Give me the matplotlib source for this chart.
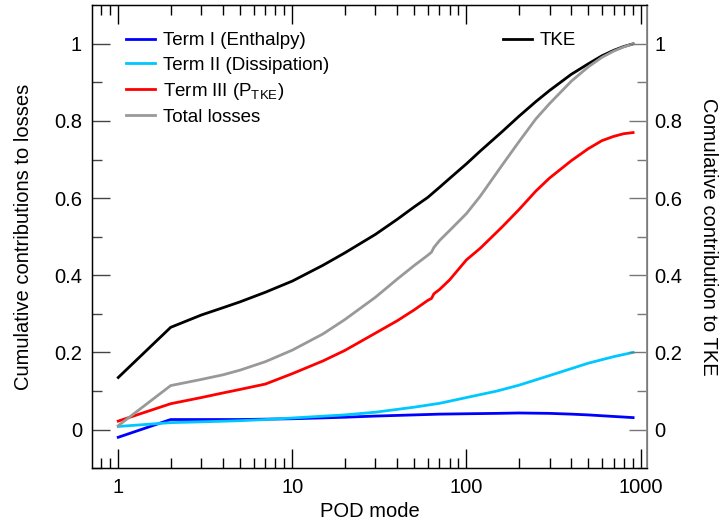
import matplotlib.pyplot as plt
from matplotlib.ticker import FixedLocator, FixedFormatter, LogLocator, NullFormatter

plt.rcParams['font.family'] = ['Liberation Sans', 'DejaVu Sans']
plt.rcParams['mathtext.fontset'] = 'custom'
plt.rcParams['mathtext.rm'] = 'Liberation Sans'

# cumulative contributions vs number of POD modes
modes_tke = [1, 2, 3, 4, 5, 7, 10, 15, 20, 30, 40, 50, 60, 70, 80, 100, 120,
             160, 200, 250, 300, 400, 500, 600, 700, 800, 906]
tke = [0.135, 0.265, 0.297, 0.316, 0.331, 0.356, 0.385, 0.426, 0.458, 0.506,
       0.545, 0.577, 0.602, 0.628, 0.651, 0.689, 0.722, 0.772, 0.812, 0.850,
       0.879, 0.921, 0.948, 0.969, 0.983, 0.993, 1.0]

modes_loss = [1, 2, 3, 4, 5, 7, 10, 15, 20, 30, 40, 50, 60, 63, 65, 70, 80,
              100, 120, 160, 200, 250, 300, 400, 500, 600, 700, 800, 906]
total = [0.010, 0.114, 0.130, 0.142, 0.154, 0.176, 0.206, 0.248, 0.285, 0.343,
         0.390, 0.425, 0.452, 0.460, 0.472, 0.490, 0.516, 0.560, 0.605, 0.685,
         0.746, 0.805, 0.845, 0.903, 0.940, 0.965, 0.981, 0.992, 1.0]
term3 = [0.022, 0.067, 0.083, 0.095, 0.104, 0.118, 0.145, 0.178, 0.205, 0.250,
         0.282, 0.310, 0.335, 0.340, 0.352, 0.363, 0.388, 0.440, 0.470, 0.525,
         0.570, 0.618, 0.652, 0.697, 0.728, 0.749, 0.760, 0.767, 0.770]

modes_small = [1, 2, 3, 5, 7, 10, 20, 30, 50, 70, 100, 150, 200, 300, 400,
               500, 700, 906]
term1 = [-0.020, 0.026, 0.026, 0.026, 0.027, 0.028, 0.032, 0.035, 0.038,
         0.040, 0.041, 0.042, 0.043, 0.042, 0.040, 0.038, 0.034, 0.031]
term2 = [0.008, 0.018, 0.020, 0.023, 0.026, 0.030, 0.038, 0.045, 0.058,
         0.068, 0.083, 0.100, 0.115, 0.140, 0.158, 0.172, 0.189, 0.200]

yticks = [0, 0.2, 0.4, 0.6, 0.8, 1.0]
ytick_labels = ['0', '0.2', '0.4', '0.6', '0.8', '1']
xticks = [1, 10, 100, 1000]
xtick_labels = ['1', '10', '100', '1000']

fig = plt.figure(figsize=(7.23, 5.26), dpi=100)
ax = fig.add_axes([0.127, 0.110, 0.768, 0.880])
ax2 = ax.twinx()

lw = 2.0
l5, = ax.plot(modes_tke, tke, color='black', lw=lw, label='TKE')
l1, = ax.plot(modes_small, term1, color='#0000ff', lw=lw, label='Term I (Enthalpy)')
l2, = ax.plot(modes_small, term2, color='#00c8ff', lw=lw, label='Term II (Dissipation)')
l3, = ax.plot(modes_loss, term3, color='#ff0000', lw=lw,
              label=r'Term III (P$_{\mathregular{TKE}}$)')
l4, = ax.plot(modes_loss, total, color='#999999', lw=lw, label='Total losses')

for a in (ax, ax2):
    a.set_xscale('log')
    a.set_xlim(0.705, 1090)
    a.set_ylim(-0.1, 1.1)
    a.yaxis.set_major_locator(FixedLocator(yticks))
    a.yaxis.set_major_formatter(FixedFormatter(ytick_labels))
    a.yaxis.set_minor_locator(FixedLocator([-0.1, 0.1, 0.3, 0.5, 0.7, 0.9]))

ax.xaxis.set_major_locator(FixedLocator(xticks))
ax.xaxis.set_major_formatter(FixedFormatter(xtick_labels))
ax.xaxis.set_minor_locator(LogLocator(base=10, subs=range(2, 10)))
ax.xaxis.set_minor_formatter(NullFormatter())

fs = 14.5
ax.tick_params(axis='x', which='both', direction='in', top=True, bottom=True,
               labelsize=fs, pad=7, color='black')
ax.tick_params(axis='x', which='major', length=14, width=1)
ax.tick_params(axis='x', which='minor', length=7, width=1)
ax.tick_params(axis='y', which='both', direction='in', left=True, right=False,
               labelsize=fs, pad=7, color='#444444')
ax.tick_params(axis='y', which='major', length=13, width=1)
ax.tick_params(axis='y', which='minor', length=7, width=1)
ax2.tick_params(axis='y', which='both', direction='in', right=True, left=False,
                labelsize=fs, pad=5, color='#777777')
ax2.tick_params(axis='y', which='major', length=13, width=1)
ax2.tick_params(axis='y', which='minor', length=7, width=1)

for s in ('left', 'bottom', 'top'):
    ax.spines[s].set_linewidth(1.0)
ax2.spines['right'].set_color('#888888')
ax2.spines['right'].set_linewidth(1.3)

ax.set_xlabel('POD mode', fontsize=fs, labelpad=4)
ax.set_ylabel('Cumulative contributions to losses', fontsize=fs, labelpad=15)
ax2.set_ylabel('Comulative contribution to TKE', fontsize=fs, rotation=-90,
               labelpad=26)

ax.legend(handles=[l1, l2, l3, l4], loc='upper left',
          bbox_to_anchor=(0.045, 0.962), frameon=False, fontsize=13.5,
          borderpad=0, handlelength=1.55, handletextpad=0.4, labelspacing=0.38)
ax2.legend(handles=[l5], loc='upper left', bbox_to_anchor=(0.724, 0.962),
           frameon=False, fontsize=13.5, borderpad=0, handlelength=1.55,
           handletextpad=0.4)

fig.savefig('out.png', dpi=100)
